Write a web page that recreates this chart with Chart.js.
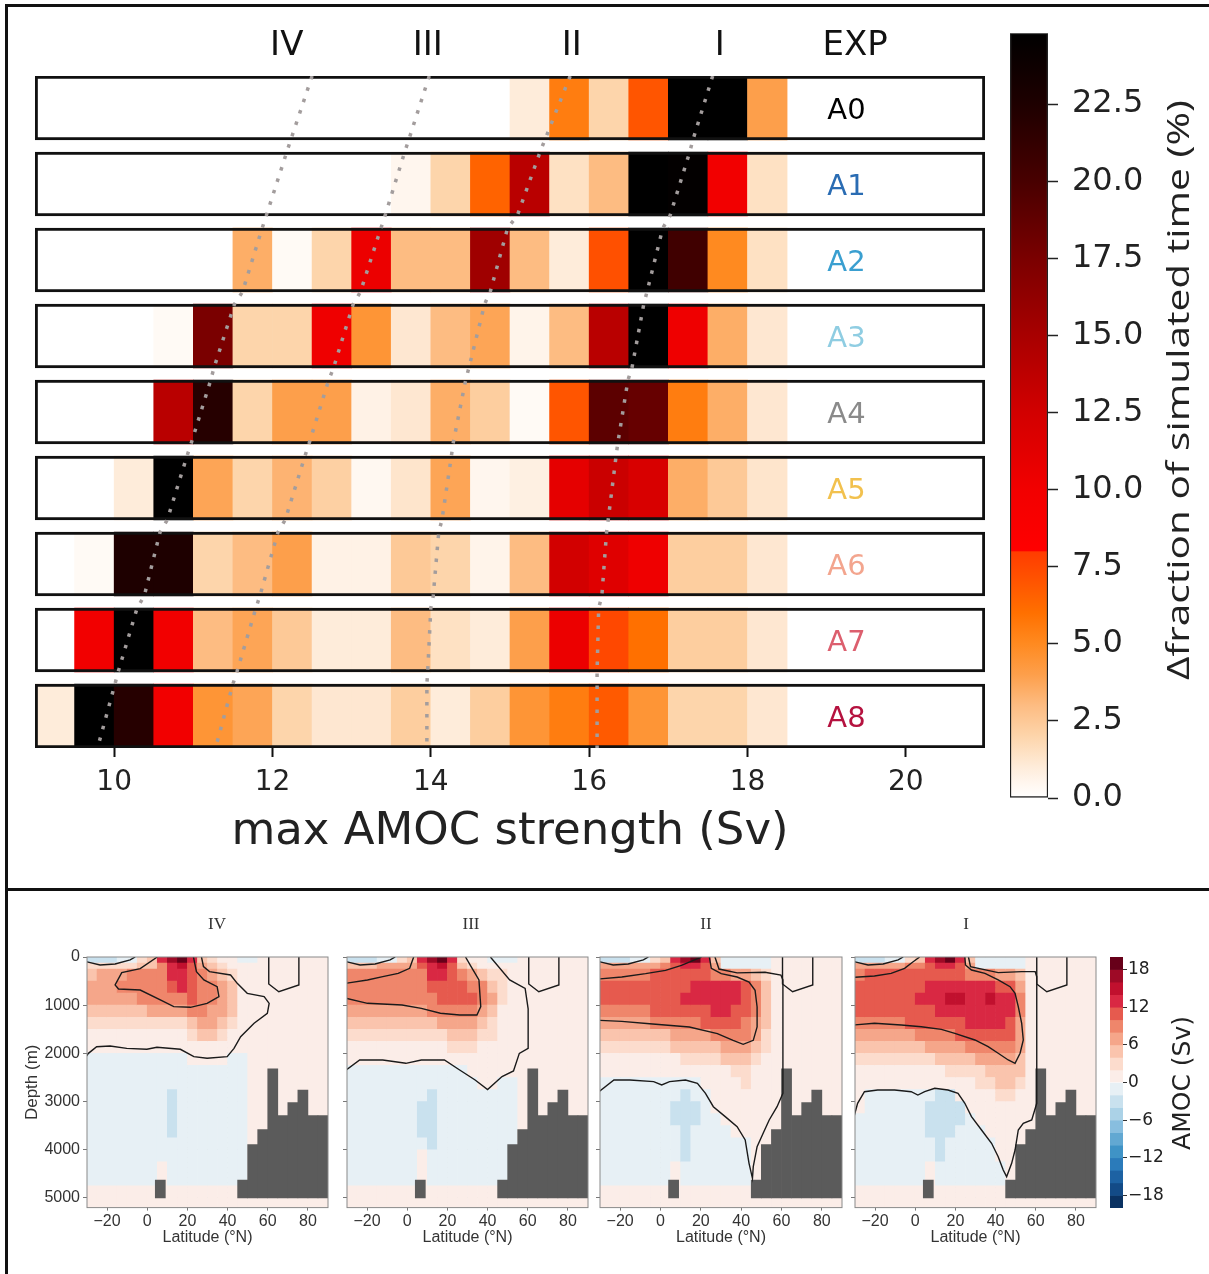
<!DOCTYPE html>
<html>
<head>
<meta charset="utf-8">
<title>AMOC regimes</title>
<script src="https://cdn.jsdelivr.net/npm/chart.js@4.4.1/dist/chart.umd.min.js"></script>
<style>
  body { margin: 0; background: #fff; }
  #page { position: relative; width: 1209px; height: 1274px; overflow: hidden; background: #fff; }
  #page canvas { position: absolute; }
  .rule { position: absolute; background: #111; }
</style>
</head>
<body>
<div id="page">
  <div class="rule" style="left:5px;top:4px;width:1204px;height:3px"></div>
  <div class="rule" style="left:5px;top:4px;width:3px;height:1270px"></div>
  <div class="rule" style="left:5px;top:888px;width:1204px;height:3px"></div>
  <canvas id="hist" width="1000" height="880" style="left:0;top:0"></canvas>
  <canvas id="histBar" width="209" height="880" style="left:1000px;top:0"></canvas>
  <canvas id="amocBar" width="109" height="384" style="left:1100px;top:890px"></canvas>
</div>
<script>
// ---- top panel: fraction of time per 0.5 Sv bin of max AMOC ----
const experiments = ['A0', 'A1', 'A2', 'A3', 'A4', 'A5', 'A6', 'A7', 'A8'];
const expColors = ['#000000', '#2a6cb3', '#3a9fd0', '#8fcde2', '#8a8a8a', '#f2c14e', '#f3a58e', '#dc5f6e', '#b5123f'];
const binStart = 9.0;
const binWidth = 0.5;
// bins 9.0, 9.5, ... 18.0 (percent of simulated time)
const a0 = [0, 0, 0, 0, 0, 0, 0, 0, 0, 0, 0, 0, 1.0, 5.5, 2.0, 7.0, 24.8, 24.8, 4.0];
const a1 = [0, 0, 0, 0, 0, 0, 0, 0, 0, 0.5, 2.0, 6.5, 14, 1.5, 3.0, 24.8, 24.6, 10, 1.5];
const a2 = [0, 0, 0, 0, 0, 3.5, 0.3, 2.0, 10.5, 3.0, 3.0, 15.5, 3.0, 1.0, 7.2, 24.8, 20.5, 5.0, 1.5];
const a3 = [0, 0, 0, 0.3, 17.5, 2.0, 2.0, 10.2, 4.5, 1.2, 3.0, 3.8, 0.6, 3.0, 14, 24.8, 10.2, 3.5, 1.2];
const a4 = [0, 0, 0, 14, 22, 2.0, 4.0, 4.0, 0.7, 1.2, 3.5, 2.3, 0.3, 7.0, 19, 18.5, 5.5, 3.5, 1.2];
const a5 = [0, 0, 1.0, 24.8, 3.8, 2.0, 3.3, 2.2, 0.4, 1.3, 3.8, 0.5, 0.8, 11, 13, 12, 3.5, 2.5, 1.3];
const a6 = [0, 0.3, 22.5, 22.5, 2.0, 3.0, 4.0, 0.7, 0.7, 2.5, 2.0, 0.6, 3.0, 12.5, 11.5, 10.2, 2.3, 2.3, 1.2];
const a7 = [0, 10, 24.8, 10, 3.0, 3.8, 2.5, 1.0, 1.0, 3.0, 1.5, 1.0, 4.0, 10.5, 7.5, 6.0, 2.3, 2.3, 1.2];
const a8 = [1.0, 24.8, 22, 10, 4.5, 3.8, 2.0, 1.2, 1.2, 2.3, 1.0, 2.3, 4.5, 5.5, 6.8, 4.5, 2.0, 2.0, 1.2];
const fractions = [a0, a1, a2, a3, a4, a5, a6, a7, a8];

// regime tracks: x at top and bottom of each experiment row
const regimeIV = [12.50, 12.23, 12.18, 11.92, 11.87, 11.62, 11.52, 11.26, 11.22, 10.97, 10.92, 10.67, 10.58, 10.38, 10.29, 10.05, 10.01, 9.79];
const regimeIII = [13.98, 13.72, 13.67, 13.42, 13.37, 13.11, 13.02, 12.77, 12.71, 12.46, 12.41, 12.16, 12.07, 11.84, 11.79, 11.55, 11.50, 11.28];
const regimeII = [15.76, 15.44, 15.38, 15.09, 14.97, 14.75, 14.68, 14.48, 14.44, 14.28, 14.26, 14.14, 14.10, 14.03, 14.00, 13.96, 13.95, 13.95];
const regimeI = [17.56, 17.31, 17.27, 17.02, 16.93, 16.73, 16.69, 16.54, 16.49, 16.36, 16.34, 16.24, 16.22, 16.16, 16.12, 16.10, 16.10, 16.10];
const headLabels = ['IV', 'III', 'II', 'I', 'EXP'];
const headX = [12.18, 13.96, 15.78, 17.65, 19.36];
const strengthTicks = [10, 12, 14, 16, 18, 20];
const fractionTicks = [0, 2.5, 5, 7.5, 10, 12.5, 15, 17.5, 20, 22.5];
const fractionMax = 24.8;

const heatStops = [[0, '#ffffff'], [0.5, '#fff6ee'], [1, '#feecda'], [2, '#fdd5ab'], [3, '#fdbc82'], [4, '#fd9f4b'],
  [5, '#ff8a20'], [6, '#ff7000'], [7, '#ff5500'], [7.99, '#ff3c00'], [8, '#ff0000'], [10, '#f20000'],
  [12.5, '#d20000'], [15, '#a80000'], [17.5, '#7a0000'], [20, '#480000'], [22.5, '#1e0000'], [24.8, '#000000']];

function rgb(h) { return [1, 3, 5].map(i => parseInt(h.slice(i, i + 2), 16)); }
function heat(v) {
  if (v <= 0) return heatStops[0][1];
  for (let i = 1; i < heatStops.length; i++) {
    if (v <= heatStops[i][0]) {
      const [v0, c0] = heatStops[i - 1];
      const [v1, c1] = heatStops[i];
      const t = (v - v0) / (v1 - v0);
      const p = rgb(c0), q = rgb(c1);
      return 'rgb(' + p.map((x, k) => Math.round(x + (q[k] - x) * t)).join(',') + ')';
    }
  }
  return heatStops[heatStops.length - 1][1];
}

const rowHalf = 0.421;
const histSets = [];
fractions.forEach((vals, r) => {
  histSets.push({
    type: 'bar', order: 2, grouped: false, barThickness: 64, borderWidth: 0,
    data: vals.map((v, j) => ({ x: [binStart + j * binWidth, binStart + (j + 1) * binWidth], y: r })),
    backgroundColor: vals.map(heat)
  });
});
histSets.push({
  type: 'bar', order: 1, grouped: false, barThickness: 64,
  data: experiments.map((e, r) => ({ x: [9, 21], y: r })),
  backgroundColor: 'rgba(0,0,0,0)', borderColor: '#111', borderWidth: 2.5, borderSkipped: false
});
[regimeIV, regimeIII, regimeII, regimeI].forEach(track => {
  histSets.push({
    type: 'line', order: 0,
    data: track.map((v, k) => ({ x: v, y: Math.floor(k / 2) + (k % 2 ? rowHalf : -rowHalf) })),
    borderColor: '#a39d9d', borderWidth: 3.5, borderDash: [3.5, 8.5], pointRadius: 0, fill: false
  });
});

const histLabels = {
  id: 'histLabels',
  afterDatasetsDraw(chart) {
    const { ctx, scales: { x, y } } = chart;
    ctx.save();
    ctx.textAlign = 'center';
    ctx.textBaseline = 'middle';
    ctx.fillStyle = '#111';
    ctx.font = '34px "DejaVu Sans"';
    headLabels.forEach((t, i) => ctx.fillText(t, x.getPixelForValue(headX[i]), 46));
    ctx.font = '29px "DejaVu Sans"';
    experiments.forEach((e, r) => {
      ctx.fillStyle = expColors[r];
      ctx.fillText(e, x.getPixelForValue(19.25), y.getPixelForValue(r) + 3);
    });
    ctx.restore();
  }
};

new Chart(document.getElementById('hist'), {
  type: 'bar',
  data: { datasets: histSets },
  options: {
    indexAxis: 'y',
    responsive: false,
    animation: false,
    layout: { padding: { left: 35, right: 15, top: 76, bottom: 17 } },
    scales: {
      x: {
        type: 'linear', min: 9, max: 21, offset: false,
        afterBuildTicks: s => { s.ticks = strengthTicks.map(v => ({ value: v })); },
        afterFit: s => { s.height = 115; },
        grid: { offset: false, drawOnChartArea: false, tickLength: 9, tickColor: '#111', tickWidth: 2 },
        border: { display: false },
        ticks: { font: { family: 'DejaVu Sans', size: 28 }, color: '#222', padding: 9, maxRotation: 0, autoSkip: false },
        title: { display: true, text: 'max AMOC strength (Sv)', color: '#222',
          font: { family: 'DejaVu Sans', size: 45 }, padding: { top: 0, bottom: 4 } }
      },
      y: { type: 'linear', min: -rowHalf, max: 8 + rowHalf, reverse: true, offset: false, display: false }
    },
    plugins: { legend: { display: false }, tooltip: { enabled: false } }
  },
  plugins: [histLabels]
});

// colour bar of the top panel
const histBarLabel = {
  id: 'histBarLabel',
  afterDraw(chart) {
    const c = chart.ctx;
    const text = '\u0394fraction of simulated time (%)';
    c.save();
    c.translate(180, 390);
    c.rotate(-Math.PI / 2);
    c.font = '31px "Open Sans"';
    const w = c.measureText(text).width;
    c.scale(580 / w, 1);
    c.textAlign = 'center';
    c.textBaseline = 'middle';
    c.fillStyle = '#222';
    c.fillText(text, 0, 0);
    c.restore();
  }
};
new Chart(document.getElementById('histBar'), {
  type: 'bar',
  data: {
    labels: ['c'],
    datasets: [{
      data: [[0, fractionMax]],
      backgroundColor: ctx => {
        const area = ctx.chart.chartArea;
        if (!area) return '#fff';
        const g = ctx.chart.ctx.createLinearGradient(0, area.bottom, 0, area.top);
        heatStops.forEach(([v, col]) => g.addColorStop(Math.min(v / fractionMax, 1), col));
        return g;
      },
      borderColor: '#222', borderWidth: 1.5, borderSkipped: false,
      barPercentage: 1, categoryPercentage: 1
    }]
  },
  options: {
    responsive: false,
    animation: false,
    layout: { padding: { left: 10, right: 0, top: 28, bottom: 82 } },
    scales: {
      x: { display: false },
      y: {
        position: 'right', min: 0, max: fractionMax,
        afterBuildTicks: s => { s.ticks = fractionTicks.map(v => ({ value: v })); },
        afterFit: s => { s.width = 161; },
        grid: { drawOnChartArea: false, tickLength: 10, tickColor: '#222', tickWidth: 1.5 },
        border: { display: false },
        ticks: { font: { family: 'DejaVu Sans', size: 32 }, color: '#222', padding: 14, callback: v => v.toFixed(1) }
      }
    },
    plugins: { legend: { display: false }, tooltip: { enabled: false } }
  },
  plugins: [histBarLabel]
});

// ---- bottom panel: AMOC streamfunction sections ----
const latEdges = [-30, -25, -20, -15, -10, -5, 0, 5, 10, 15, 20, 25, 30, 35, 40, 45, 50, 55, 60, 65, 70, 75, 80, 85, 90];
const depthEdges = [0, 125, 250, 500, 750, 1000, 1250, 1500, 1750, 2000, 2250, 2500, 2750, 3000, 3250, 3500, 3750, 4000, 4250, 4500, 4750, 5000, 5250];
const latTicks = [-20, 0, 20, 40, 60, 80];
const depthTicks = [0, 1000, 2000, 3000, 4000, 5000];
const amocBounds = [-20, -18, -16, -14, -12, -10, -8, -6, -4, -2, 0, 2, 4, 6, 8, 10, 12, 14, 16, 18, 20];
const amocColors = ['#0a3262', '#134b87', '#1d62a3', '#2b7bba', '#3f93c6', '#62a8d2', '#88bedf', '#abd2e7', '#c9e1ee', '#e7f0f5',
  '#fbede8', '#fcdccd', '#fac4ad', '#f5a68a', '#ef866b', '#e65a4e', '#d92843', '#c1102e', '#9e0a26', '#670019'];
const amocTicks = [-18, -12, -6, 0, 6, 12, 18];
// band codes: B -4..-2, b -2..0, 0 0..2, 1 2..4, ... 9 18..20 Sv
const levelColors = { B: '#c9e1ee', b: '#e7f0f5', '0': '#fbede8', '1': '#fcdccd', '2': '#fac4ad', '3': '#f5a68a',
  '4': '#ef866b', '5': '#e65a4e', '6': '#d92843', '7': '#c1102e', '8': '#9e0a26', '9': '#670019' };
const landLat = [6.5, 47.5, 52.5, 57.5, 62.5, 67.5, 72.5, 77.5, 82.5, 87.5];
const landTop = [4630, 4630, 3890, 3580, 2320, 3290, 3020, 2760, 3290, 3290];
const landBase = 5000;

// rows = depth bands (depthEdges), columns = 5 deg latitude bands from -30
const amocIV = [
  'BBBbb1 268962 100bb0 000000', '111112 246753 210000 000000', '233344 446654 321000 000000',
  '333444 445654 432000 000000', '333334 444454 432000 000000', '222222 333344 332000 000000',
  '111111 111123 321000 000000', '000000 000012 210000 000000', '000000 000000 000000 000000',
  'bbbbbb bbbb00 00bb00 000000', 'bbbbbb bbbbbb bbbb00 000000', 'bbbbbb bbbbbb bbbb00 000000',
  'bbbbbb bbBbbb bbbb00 000000', 'bbbbbb bbBbbb bbbb00 000000', 'bbbbbb bbBbbb bbbb00 000000',
  'bbbbbb bbBbbb bbbb00 000000', 'bbbbbb bbbbbb bbbb00 000000', 'bbbbbb bbbbbb bbbb00 000000',
  'bbbbbb b0bbbb bbbb00 000000', 'bbbbbb b0bbbb bbbb00 000000', '000000 000000 000000 000000',
  '000000 000000 000000 000000'];
const amocIII = [
  'BBBbb1 268961 00bbb0 000000', '222333 356752 100000 000000', '444444 446654 321100 000000',
  '444444 445555 442100 000000', '444444 444555 543100 000000', '333333 334444 432000 000000',
  '222222 222333 321000 000000', '111111 111122 211000 000000', '000000 000011 100000 000000',
  '000000 000000 000000 000000', 'bbbbbb bbbbbb 000000 000000', 'bbbbbb bbbbbb b00bb0 000000',
  'bbbbbb bbBbbb bbbbb0 000000', 'bbbbbb bBBbbb bbbbb0 000000', 'bbbbbb bBBbbb bbbbb0 000000',
  'bbbbbb bBBbbb bbbbb0 000000', 'bbbbbb bbBbbb bbbbb0 000000', 'bbbbbb b0bbbb bbbbb0 000000',
  'bbbbbb b0bbbb bbbbb0 000000', 'bbbbbb b0bbbb bbbbb0 000000', '000000 000000 000000 000000',
  '000000 000000 000000 000000'];
const amocII = [
  'BBBbb1 268962 bbbbb0 000000', '333333 456653 bbbbb0 000000', '444445 555554 433210 000000',
  '555555 555666 665420 000000', '555555 556666 665420 000000', '444445 555556 655420 000000',
  '333334 444455 554320 000000', '222222 233334 444310 000000', '111111 122222 333210 000000',
  '000000 001111 222100 000000', '000000 000000 011000 000000', 'bbbbbb bbbb00 001000 000000',
  'bbbbbb bbBbb0 000000 000000', 'bbbbbb bBBBb0 000000 000000', 'bbbbbb bBBBbb 000000 000000',
  'bbbbbb bbBbbb b00000 000000', 'bbbbbb bbBbbb bbb000 000000', 'bbbbbb bbBbbb bbb000 000000',
  'bbbbbb b0bbbb bbb000 000000', 'bbbbbb b0bbbb bbb000 000000', '000000 000000 000000 000000',
  '000000 000000 000000 000000'];
const amocI = [
  'BBBbb1 268962 bbbbb0 000000', '333334 456653 bbbbb0 000000', '455555 555554 443320 000000',
  '555555 566666 665530 000000', '555555 666776 676640 000000', '555555 556666 666640 000000',
  '444445 555556 666530 000000', '333333 444455 555530 000000', '222222 233334 444430 000000',
  '111111 112222 333320 000000', '000000 000111 122220 000000', '000000 000000 112210 000000',
  '0bbbbb bbBB00 001100 000000', '0bbbbb bBBBB0 000000 000000', 'bbbbbb bBBBBb 000000 000000',
  'bbbbbb bBBBbb b00000 000000', 'bbbbbb bbBbbb bb0000 000000', 'bbbbbb bbBbbb bb0000 000000',
  'bbbbbb b0bbbb bbb000 000000', 'bbbbbb b0bbbb bbb000 000000', '000000 000000 000000 000000',
  '000000 000000 000000 000000'];

// contour lines [lat, depth]
const surfaceLoop = [[-30, 100], [-23.5, 165], [-16, 145], [-8.5, 60], [-6, 0]];
const arcticBox = [[60.5, 0], [60.5, 560], [65.5, 720], [75.5, 580], [75.5, 0]];
const ivInner = [[5, 0], [-3.5, 242], [-12.7, 325], [-16, 581], [-14.3, 664], [-3.5, 685], [6.5, 892], [13.2, 1030],
  [21.5, 1044], [29.8, 961], [35.7, 823], [34.8, 615], [28.2, 477], [24.5, 304], [23, 0]];
const ivZero = [[27, 0], [28, 200], [31, 304], [41.5, 373], [44.8, 546], [49.8, 754], [58.2, 823], [60.7, 961],
  [59.8, 1169], [53.2, 1376], [46.5, 1653], [43.2, 1895], [39.8, 2068], [29.8, 2102], [23.2, 2068], [16.5, 1915],
  [4.8, 1874], [-0.2, 1915], [-10.2, 1895], [-18.5, 1847], [-25.2, 1861], [-29.3, 1999], [-30.5, 2068]];
const iiiUpper = [[3.2, 0], [1.2, 235], [-4.5, 339], [-12.2, 408], [-19.8, 477], [-30.5, 546]];
const iiiLower = [[-30.5, 857], [-19.8, 961], [-2.6, 996], [7, 1065], [16.5, 1168], [26.1, 1203], [34.7, 1203],
  [36.6, 1030], [35.7, 477], [31.8, 200], [29, 0]];
const iiiZero = [[41.4, 0], [51, 477], [58.7, 650], [60.2, 1075], [60.2, 1895], [55.8, 2000], [52.9, 2365],
  [47.2, 2480], [40, 2750], [33.8, 2552], [26.1, 2345], [18.5, 2137], [7, 2137], [-0.7, 2206], [-12.2, 2137],
  [-23.7, 2137], [-30.5, 2345]];
const iiUpper = [[-30.5, 456], [-19.2, 415], [-7.4, 346], [2.5, 277], [10.4, 173], [16.3, 69], [20.3, 0]];
const iiLower = [[24.2, 0], [25.2, 235], [30.1, 346], [38, 415], [43.9, 519], [46.9, 692], [47.9, 1038], [47.9, 1453],
  [46, 1729], [41, 1812], [36, 1729], [28.2, 1591], [14.3, 1453], [-5.4, 1384], [-19.2, 1335], [-30.5, 1315]];
const iiZero = [[27, 0], [29, 250], [38, 330], [51.8, 318], [59.7, 374], [60.7, 477], [60.7, 2829], [57.8, 3106],
  [53.9, 3382], [50.9, 3659], [47.9, 3935], [46, 4350], [45.6, 4592], [43.9, 4281], [42, 3797], [38, 3520],
  [32.1, 3313], [26.2, 3106], [22.3, 2829], [18.3, 2621], [12.4, 2552], [4.5, 2587], [0.6, 2656], [-3.4, 2587],
  [-15.2, 2552], [-23.1, 2552], [-30.5, 2794]];
const iUpper = [[-30.5, 422], [-20.3, 394], [-12, 339], [-5.3, 235], [-1.7, 118], [2.2, 0]];
const iLower = [[24.7, 0], [25, 166], [28, 270], [34.7, 339], [41.3, 477], [47.2, 616], [49.7, 754], [51.3, 1031],
  [53, 1376], [53.8, 1722], [52.2, 1998], [49.7, 2206], [46.3, 2137], [41.3, 1998], [36.3, 1861], [29.7, 1722],
  [19.7, 1584], [13, 1501], [3, 1446], [-7, 1411], [-20.3, 1376], [-30.5, 1411]];
const iZero = [[26.5, 0], [27.5, 201], [41.3, 325], [53, 304], [59.7, 304], [60.5, 408], [60.5, 3036], [58, 3382],
  [53.8, 3451], [51.3, 3590], [49.7, 4005], [48, 4281], [45.5, 4558], [43.8, 4420], [41.3, 4143], [38, 3866],
  [33, 3590], [28, 3313], [24.7, 3036], [21.3, 2828], [16.3, 2760], [9.7, 2725], [4.7, 2795], [1.3, 2864],
  [-2, 2795], [-10.3, 2760], [-18.7, 2760], [-25.3, 2795], [-28.7, 3036], [-30.5, 3313]];

const sections = [
  { name: 'IV', grid: amocIV, lines: [surfaceLoop, arcticBox, ivInner, ivZero], left: 87, right: 328, titleX: 217, canvasLeft: 20 },
  { name: 'III', grid: amocIII, lines: [surfaceLoop, arcticBox, iiiUpper, iiiLower, iiiZero], left: 347, right: 588, titleX: 471, canvasLeft: 339 },
  { name: 'II', grid: amocII, lines: [surfaceLoop, arcticBox, iiUpper, iiLower, iiZero], left: 600, right: 842, titleX: 706, canvasLeft: 592 },
  { name: 'I', grid: amocI, lines: [surfaceLoop, arcticBox, iUpper, iLower, iZero], left: 855, right: 1096, titleX: 966, canvasLeft: 847 }
];

const minus = v => (v < 0 ? '\u2212' + Math.abs(v) : String(v));

function cellBars(grid) {
  const rows = grid.map(r => r.replace(/ /g, ''));
  const pts = [], cols = [];
  for (let c = 0; c < latEdges.length - 1; c++) {
    let r = 0;
    while (r < rows.length) {
      const code = rows[r][c];
      let r2 = r;
      while (r2 + 1 < rows.length && rows[r2 + 1][c] === code) r2++;
      pts.push({ x: (latEdges[c] + latEdges[c + 1]) / 2, y: [depthEdges[r], depthEdges[r2 + 1]] });
      cols.push(levelColors[code]);
      r = r2 + 1;
    }
  }
  return { pts, cols };
}

const page = document.getElementById('page');
sections.forEach((sec, i) => {
  const cv = document.createElement('canvas');
  const width = sec.right + 10 - sec.canvasLeft;
  cv.width = width;
  cv.height = 384;
  cv.style.left = sec.canvasLeft + 'px';
  cv.style.top = '890px';
  page.appendChild(cv);
  const thick = (sec.right - sec.left) / 120 * 5;
  const cells = cellBars(sec.grid);
  const sets = [{
    type: 'bar', order: 2, grouped: false, barThickness: thick, borderWidth: 0,
    data: cells.pts, backgroundColor: cells.cols
  }, {
    type: 'bar', order: 1, grouped: false, barThickness: thick, borderWidth: 0,
    data: landLat.map((la, k) => ({ x: la, y: [landTop[k], landBase] })), backgroundColor: '#5b5b5b'
  }];
  sec.lines.forEach(line => sets.push({
    type: 'line', order: 0, data: line.map(([la, d]) => ({ x: la, y: d })),
    borderColor: '#1a1a1a', borderWidth: 1.4, pointRadius: 0, fill: false
  }));
  const sectionDeco = {
    id: 'sectionDeco',
    afterDraw(chart) {
      const { ctx, chartArea: a } = chart;
      ctx.save();
      ctx.strokeStyle = '#8a8a8a';
      ctx.lineWidth = 1;
      ctx.strokeRect(a.left, a.top, a.right - a.left, a.bottom - a.top);
      ctx.font = '17px "Liberation Serif"';
      ctx.fillStyle = '#333';
      ctx.textAlign = 'center';
      ctx.textBaseline = 'middle';
      ctx.fillText(sec.name, sec.titleX - sec.canvasLeft, 35);
      ctx.restore();
    }
  };
  new Chart(cv, {
    type: 'bar',
    data: { datasets: sets },
    options: {
      responsive: false,
      animation: false,
      layout: { padding: { left: 0, right: 10, top: 67, bottom: 24 } },
      scales: {
        x: {
          type: 'linear', min: -30, max: 90, offset: false, z: 1,
          afterBuildTicks: s => { s.ticks = latTicks.map(v => ({ value: v })); },
          afterFit: s => { s.height = 42.4; },
          grid: { offset: false, color: '#6a6a6a', lineWidth: 0.8, tickLength: 3, tickColor: '#555' },
          border: { display: false, dash: [1.2, 3.8] },
          ticks: { font: { family: 'Liberation Sans', size: 16 }, color: '#333', padding: 1, maxRotation: 0, autoSkip: false, callback: minus },
          title: { display: true, text: 'Latitude (\u00b0N)', color: '#333', font: { family: 'Liberation Sans', size: 16 }, padding: { top: 0, bottom: 3 } }
        },
        y: {
          type: 'linear', min: 0, max: 5200, reverse: true, z: 1,
          afterBuildTicks: s => { s.ticks = depthTicks.map(v => ({ value: v })); },
          afterFit: s => { s.width = sec.left - sec.canvasLeft; },
          grid: { color: '#6a6a6a', lineWidth: 0.8, tickLength: 4, tickColor: '#555' },
          border: { display: false, dash: [1.2, 3.8] },
          ticks: { display: i === 0, font: { family: 'Liberation Sans', size: 16 }, color: '#333', padding: 3, callback: v => String(v) },
          title: { display: i === 0, text: 'Depth (m)', color: '#333', font: { family: 'Liberation Sans', size: 17 }, padding: { top: 2, bottom: 2 } }
        }
      },
      plugins: { legend: { display: false }, tooltip: { enabled: false } }
    },
    plugins: [sectionDeco]
  });
});

// colour bar of the sections
const amocBarLabel = {
  id: 'amocBarLabel',
  afterDraw(chart) {
    const c = chart.ctx;
    c.save();
    c.translate(83, 193);
    c.rotate(-Math.PI / 2);
    c.font = '25px "DejaVu Sans"';
    c.textAlign = 'center';
    c.textBaseline = 'middle';
    c.fillStyle = '#222';
    c.fillText('AMOC (Sv)', 0, 0);
    c.restore();
  }
};
new Chart(document.getElementById('amocBar'), {
  type: 'bar',
  data: {
    labels: ['c'],
    datasets: [{
      data: amocColors.map((col, k) => ({ x: 'c', y: [amocBounds[k], amocBounds[k + 1]] })),
      backgroundColor: amocColors, borderWidth: 0, barPercentage: 1, categoryPercentage: 1
    }]
  },
  options: {
    responsive: false,
    animation: false,
    layout: { padding: { left: 10, right: 0, top: 67, bottom: 66 } },
    scales: {
      x: { display: false },
      y: {
        position: 'right', min: -20, max: 20,
        afterBuildTicks: s => { s.ticks = amocTicks.map(v => ({ value: v })); },
        afterFit: s => { s.width = 86; },
        grid: { drawOnChartArea: false, tickLength: 4, tickColor: '#333' },
        border: { display: false },
        ticks: { font: { family: 'DejaVu Sans', size: 17 }, color: '#222', padding: 1, callback: minus }
      }
    },
    plugins: { legend: { display: false }, tooltip: { enabled: false } }
  },
  plugins: [amocBarLabel]
});
</script>
</body>
</html>
